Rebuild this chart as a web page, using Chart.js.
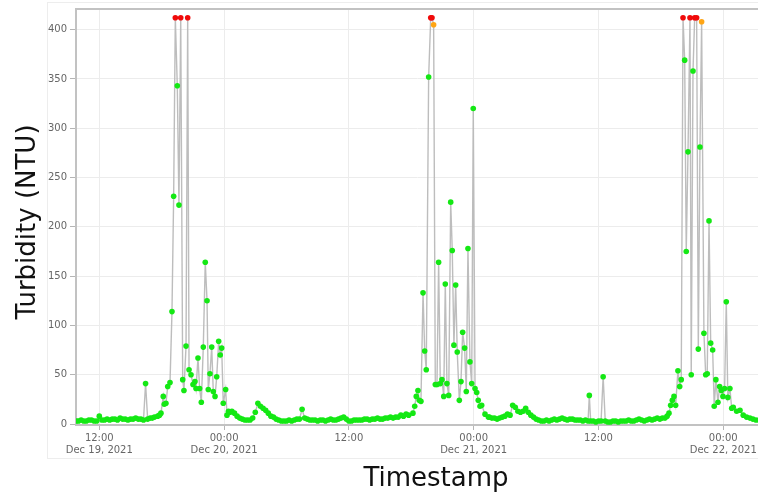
<!DOCTYPE html>
<html>
<head>
<meta charset="utf-8">
<script src="https://cdn.jsdelivr.net/npm/chart.js@4.4.1/dist/chart.umd.min.js"></script>
<style>
  html, body { margin: 0; padding: 0; background: #fff; }
</style>
</head>
<body>
<canvas id="myChart" width="758" height="495"></canvas>
<script>
// time axis is in hours counted from Dec 19, 2021 00:00
const tickHours = [12, 24, 36, 48, 60, 72];
const tickTimes = ["12:00", "00:00", "12:00", "00:00", "12:00", "00:00"];
const tickDates = ["Dec 19, 2021", "Dec 20, 2021", "", "Dec 21, 2021", "", "Dec 22, 2021"];
const yTicks = [0, 50, 100, 150, 200, 250, 300, 350, 400];

// Dec 19 morning baseline
const hoursA = [9.8,10.0,10.25,10.5,10.75,11.0,11.25,11.5,11.75,12.0,12.25,12.5,12.75,13.0,13.25,13.5,13.75,14.0,14.25,14.5,14.75,15.0,15.25,15.5,15.75,16.0,16.25,16.45,16.65,16.9,17.1,17.3];
const ntuA   = [3,3,4,3,3,4,4,3,3,8,4,4,5,4,5,5,4,6,5,5,4,5,5,6,5,5,4,41,5,6,6,7];

// Dec 19 evening event
const hoursB = [17.62,17.79,17.93,18.15,18.25,18.41,18.58,18.80,18.99,19.15,19.31,19.50,19.66,19.83,20.02,20.14,20.34,20.50,20.63,20.82,21.01,21.20,21.30,21.49,21.65,21.81,22.00,22.19,22.36,22.48,22.64,22.81,22.96,23.13,23.29,23.48,23.63,23.77,23.92,24.15,24.28,24.42,24.57];
const ntuB   = [8,9,11,28,20,21,38,42,114,231,412,343,222,412,45,34,79,412,55,50,40,43,36,67,36,22,78,164,125,35,51,78,33,28,48,84,70,77,21,35,9,13,12];

// Dec 20 quiet period
const hoursC = [24.75,25,25.25,25.5,25.75,26,26.25,26.5,26.75,27,27.25,27.5,27.75,28,28.25,28.5,28.75,29,29.25,29.5,29.75,30,30.25,30.5,30.75,31,31.25,31.5,31.75,32,32.25,32.5,32.75,33,33.25,33.5,33.75,34,34.25,34.5,34.75,35,35.25,35.5,35.75,36,36.25,36.5,36.75,37,37.25,37.5,37.75,38,38.25,38.5,38.75,39,39.25,39.5,39.75,40,40.25,40.5,40.75,41,41.25,41.5,41.75];
const ntuC   = [13,11,8,6,5,4,4,4,6,12,21,18,16,14,11,8,7,5,4,3,3,3,4,3,4,5,5,15,6,5,4,4,4,3,4,4,3,4,5,4,4,5,6,7,5,3,3,4,4,4,4,5,5,4,5,5,6,5,5,6,6,7,6,7,7,9,8,10,9];

// Dec 20 evening event
const hoursD = [42.16,42.33,42.48,42.64,42.77,42.93,43.13,43.29,43.44,43.67,43.87,43.99,44.15,44.31,44.47,44.63,44.79,44.95,45.12,45.27,45.43,45.60,45.79,45.94,46.10,46.27,46.42,46.62,46.78,46.94,47.13,47.29,47.45,47.64,47.81,47.96,48.13,48.29,48.44,48.61,48.77,49.09,49.41];
const ntuD   = [11,18,28,34,24,23,133,74,55,352,412,412,405,40,40,164,41,45,28,142,41,29,225,176,80,141,73,24,43,93,77,33,178,63,41,320,36,32,24,18,19,10,7];

// Dec 21 quiet period
const hoursE = [49.5,49.75,50,50.25,50.5,50.75,51,51.25,51.5,51.75,52,52.25,52.5,52.75,53,53.25,53.5,53.75,54,54.25,54.5,54.75,55,55.25,55.5,55.75,56,56.25,56.5,56.75,57,57.25,57.5,57.75,58,58.25,58.5,58.75,59,59.12,59.25,59.5,59.75,60,60.25,60.45,60.65,60.9,61.15,61.4,61.65,61.9,62.15,62.4,62.65,62.9,63.15,63.4,63.65,63.9,64.15,64.4,64.65,64.9,65.15,65.4,65.65,65.9,66.15,66.4,66.6];
const ntuE   = [7,6,6,5,6,7,8,10,9,19,17,13,12,13,16,12,9,7,5,4,3,3,4,3,4,5,4,5,6,5,4,5,5,4,4,4,3,4,3,29,3,3,2,3,3,48,3,2,2,3,3,2,3,3,3,4,3,3,4,5,4,3,4,5,4,5,6,5,6,6,8];

// Dec 21 evening event
const hoursF = [66.78,66.94,67.10,67.26,67.42,67.64,67.81,67.96,68.13,68.29,68.44,68.61,68.80,68.92,69.09,69.25,69.44,69.60,69.76,69.92,70.14,70.31,70.46,70.63,70.79,70.98,71.13,71.29,71.49,71.65,71.81,71.97,72.13,72.29,72.44,72.64,72.81,72.96,73.29,73.61,73.92,74.24,74.56,74.85,75.15,75.44];
const ntuF   = [11,19,24,28,19,54,38,45,412,369,175,276,412,50,358,412,412,76,281,408,92,50,51,206,82,75,18,45,22,38,34,28,36,124,27,36,16,17,13,14,9,7,6,5,4,4];

const hours = [].concat(hoursA, hoursB, hoursC, hoursD, hoursE, hoursF);
const turbidity = [].concat(ntuA, ntuB, ntuC, ntuD, ntuE, ntuF);

const GREEN = 'rgb(20,232,20)';
const ORANGE = 'rgb(255,165,20)';
const RED = 'rgb(240,10,10)';

function pointColour(v) {
  if (v >= 410) return RED;
  if (v >= 400) return ORANGE;
  return GREEN;
}

const points = hours.map(function (h, i) { return { x: h, y: turbidity[i] }; });
const colours = turbidity.map(pointColour);

const decor = {
  id: 'decor',
  beforeDraw(chart) {
    const ctx = chart.ctx;
    ctx.save();
    ctx.strokeStyle = '#ededed';
    ctx.lineWidth = 1;
    ctx.strokeRect(47.5, 2.5, 720, 456);
    ctx.restore();
  },
  afterDraw(chart) {
    const ctx = chart.ctx;
    const area = chart.chartArea;
    ctx.save();
    ctx.strokeStyle = '#c2c2c2';
    ctx.lineWidth = 2;
    ctx.beginPath();
    ctx.moveTo(area.left, area.top);
    ctx.lineTo(area.right, area.top);
    ctx.stroke();

    ctx.fillStyle = '#111';
    ctx.font = '26px "DejaVu Sans"';
    ctx.textAlign = 'center';
    ctx.textBaseline = 'middle';
    ctx.fillText('Timestamp', 436, 479);
    ctx.translate(28, 222);
    ctx.rotate(-Math.PI / 2);
    ctx.fillText('Turbidity (NTU)', 0, 0);
    ctx.restore();
  }
};

var ctx = document.getElementById('myChart');
var chart = new Chart(ctx, {
  type: 'line',
  data: {
    datasets: [{
      label: 'Turbidity',
      data: points,
      borderColor: 'rgba(185,185,185,0.95)',
      borderWidth: 1.4,
      tension: 0,
      pointRadius: 2.8,
      pointBorderWidth: 0,
      pointBackgroundColor: colours,
      pointBorderColor: colours
    }]
  },
  options: {
    responsive: false,
    animation: false,
    devicePixelRatio: 1,
    layout: { autoPadding: false, padding: { top: 9, right: 0, left: 0, bottom: 0 } },
    plugins: {
      legend: { display: false },
      tooltip: { enabled: false }
    },
    scales: {
      x: {
        type: 'linear',
        min: 9.76,
        max: 75.34,
        afterBuildTicks: function (axis) {
          axis.ticks = tickHours.map(function (v) { return { value: v }; });
        },
        afterFit: function (scale) {
          scale.height = 70;
          scale.paddingLeft = 0;
          scale.paddingRight = 0;
        },
        ticks: {
          maxRotation: 0,
          autoSkip: false,
          padding: 2,
          color: '#666',
          font: { family: 'DejaVu Sans', size: 10 },
          callback: function (value) {
            const i = tickHours.indexOf(value);
            if (i < 0) return '';
            return tickDates[i] ? [tickTimes[i], tickDates[i]] : tickTimes[i];
          }
        },
        grid: { color: '#ececec', tickColor: '#b5b5b5', tickLength: 5 },
        border: { color: '#c2c2c2', width: 2 }
      },
      y: {
        min: -1,
        max: 420.9,
        afterBuildTicks: function (axis) {
          axis.ticks = yTicks.map(function (v) { return { value: v }; });
        },
        afterFit: function (scale) {
          scale.width = 76;
          scale.paddingTop = 0;
          scale.paddingBottom = 0;
        },
        ticks: {
          padding: 3,
          color: '#666',
          font: { family: 'DejaVu Sans', size: 10 }
        },
        grid: { color: '#ececec', tickColor: '#b5b5b5', tickLength: 6 },
        border: { color: '#c2c2c2', width: 2 }
      }
    }
  },
  plugins: [decor]
});
</script>
</body>
</html>
